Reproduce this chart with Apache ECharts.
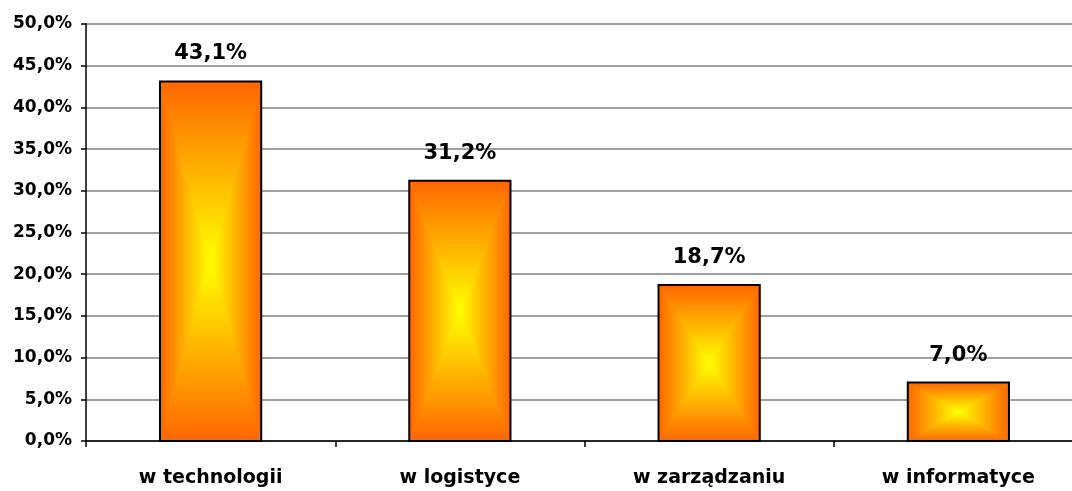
<!DOCTYPE html>
<html>
<head>
<meta charset="utf-8">
<script src="https://cdn.jsdelivr.net/npm/echarts@6/dist/echarts.min.js"></script>
<style>
  html, body { margin: 0; padding: 0; background: #ffffff; overflow: hidden; }
  #chart { width: 1083px; height: 491px; }
</style>
</head>
<body>
<div id="chart"></div>
<script>
// Share of respondents by area
const categories = ['w technologii', 'w logistyce', 'w zarządzaniu', 'w informatyce'];
const shares = [43.1, 31.2, 18.7, 7.0];
const yTicks = { min: 0, max: 50, interval: 5 };

const FONT = '"DejaVu Sans", "Liberation Sans", Arial, sans-serif';
const EDGE = '#FF6600';
const CENTER = '#FFFF00';

function pct(v) {
  return v.toFixed(1).replace('.', ',') + '%';
}

// Rectangular "from centre" fill: four triangles, each shaded from its edge to the centre
function renderBar(params, api) {
  const idx = api.value(0);
  const val = api.value(1);
  const top = api.coord([idx, val]);
  const base = api.coord([idx, 0]);
  const w = api.size([1, 0])[0] * 0.406;
  const x0 = top[0] - w / 2, x1 = top[0] + w / 2;
  const y0 = top[1], y1 = base[1];
  const cx = top[0], cy = (y0 + y1) / 2;
  const grad = (a, b, c, d) => new echarts.graphic.LinearGradient(a, b, c, d, [
    { offset: 0, color: EDGE }, { offset: 1, color: CENTER }
  ], true);
  const tri = (pts, g) => ({
    type: 'polygon', shape: { points: pts },
    style: { fill: g, stroke: g, lineWidth: 1 }
  });
  return {
    type: 'group',
    children: [
      tri([[x0, y0], [x1, y0], [cx, cy]], grad(0, y0, 0, cy)),
      tri([[x0, y1], [x1, y1], [cx, cy]], grad(0, y1, 0, cy)),
      tri([[x0, y0], [x0, y1], [cx, cy]], grad(x0, 0, cx, 0)),
      tri([[x1, y0], [x1, y1], [cx, cy]], grad(x1, 0, cx, 0)),
      { type: 'rect', shape: { x: x0, y: y0, width: x1 - x0, height: y1 - y0 },
        style: { fill: null, stroke: '#000000', lineWidth: 2 } },
      { type: 'text', x: cx, y: y0 - 17,
        style: { text: pct(val), fill: '#000000', font: 'bold 21px ' + FONT,
                 align: 'center', verticalAlign: 'bottom' } }
    ]
  };
}

const chart = echarts.init(document.getElementById('chart'), null, { renderer: 'canvas' });
chart.setOption({
  animation: false,
  backgroundColor: '#ffffff',
  grid: { left: 86, top: 24, right: 0, bottom: 50, containLabel: false },
  xAxis: {
    type: 'category',
    data: categories,
    boundaryGap: true,
    axisLine: { show: true, lineStyle: { color: '#000000', width: 1.5 } },
    axisTick: { show: true, interval: 0, length: 6, lineStyle: { color: '#000000', width: 1.5 } },
    axisLabel: { interval: 0, margin: 28, color: '#000000', fontFamily: FONT,
                 fontWeight: 'bold', fontSize: 19 },
    splitLine: { show: false }
  },
  yAxis: {
    type: 'value',
    min: yTicks.min, max: yTicks.max, interval: yTicks.interval,
    axisLine: { show: true, lineStyle: { color: '#000000', width: 1.5 } },
    axisTick: { show: true, length: 5, lineStyle: { color: '#000000', width: 1.5 } },
    axisLabel: { margin: 14, color: '#000000', fontFamily: FONT, fontWeight: 'bold',
                 fontSize: 17, formatter: v => pct(v) },
    splitLine: { show: true, lineStyle: { color: '#808080', width: 1.5 } }
  },
  series: [{
    type: 'custom',
    renderItem: renderBar,
    data: shares.map((v, i) => [i, v]),
    encode: { x: 0, y: 1 },
    z: 3
  }]
});
</script>
</body>
</html>
